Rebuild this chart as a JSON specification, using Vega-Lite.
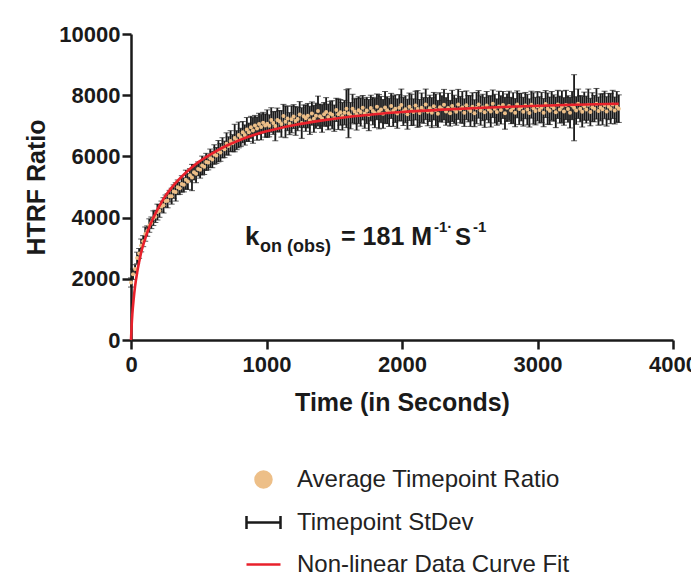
{
"$schema": "https://vega.github.io/schema/vega-lite/v6.json",
"width": 542, "height": 306,
"autosize": {"type": "none"},
"padding": {"left": 131, "top": 34, "right": 18, "bottom": 239},
"background": "white",
"datasets": {
"obs": [
{"t":0,"m":1880,"e":150},{"t":15,"m":2150,"e":170},{"t":30,"m":2320,"e":140},{"t":45,"m":2680,"e":190},{"t":60,"m":2830,"e":160},{"t":75,"m":3090,"e":210},{"t":90,"m":3230,"e":180},{"t":105,"m":3460,"e":230},{"t":120,"m":3560,"e":170},{"t":135,"m":3740,"e":220},{"t":150,"m":3830,"e":190},{"t":165,"m":3980,"e":240},{"t":180,"m":4040,"e":200},{"t":195,"m":4180,"e":260},{"t":210,"m":4220,"e":210},{"t":225,"m":4360,"e":180},{"t":240,"m":4400,"e":250},{"t":255,"m":4540,"e":200},{"t":270,"m":4550,"e":230},{"t":285,"m":4700,"e":190},{"t":300,"m":4700,"e":260},{"t":315,"m":4850,"e":220},{"t":330,"m":4840,"e":300},{"t":345,"m":4990,"e":240},{"t":360,"m":4960,"e":200},{"t":375,"m":5100,"e":270},{"t":390,"m":5070,"e":230},{"t":405,"m":5240,"e":310},{"t":420,"m":5180,"e":260},{"t":435,"m":5380,"e":220},{"t":450,"m":5310,"e":430},{"t":465,"m":5480,"e":250},{"t":480,"m":5430,"e":290},{"t":495,"m":5590,"e":230},{"t":510,"m":5560,"e":270},{"t":525,"m":5700,"e":310},{"t":540,"m":5660,"e":250},{"t":555,"m":5820,"e":280},{"t":570,"m":5800,"e":240},{"t":585,"m":5940,"e":300},{"t":600,"m":5900,"e":270},{"t":615,"m":6060,"e":320},{"t":630,"m":6030,"e":260},{"t":645,"m":6170,"e":350},{"t":660,"m":6130,"e":290},{"t":675,"m":6280,"e":330},{"t":690,"m":6230,"e":270},{"t":705,"m":6410,"e":360},{"t":720,"m":6340,"e":300},{"t":735,"m":6500,"e":340},{"t":750,"m":6430,"e":280},{"t":765,"m":6600,"e":450},{"t":780,"m":6530,"e":310},{"t":795,"m":6700,"e":420},{"t":810,"m":6620,"e":300},{"t":825,"m":6790,"e":350},{"t":840,"m":6700,"e":330},{"t":855,"m":6880,"e":390},{"t":870,"m":6790,"e":300},{"t":885,"m":6950,"e":360},{"t":900,"m":6850,"e":420},{"t":915,"m":7010,"e":330},{"t":930,"m":6910,"e":380},{"t":945,"m":7060,"e":350},{"t":960,"m":6960,"e":420},{"t":975,"m":7100,"e":340},{"t":990,"m":7010,"e":380},
{"t":1005,"m":7070,"e":450},{"t":1020,"m":7000,"e":360},{"t":1035,"m":7190,"e":400},{"t":1050,"m":7090,"e":370},{"t":1065,"m":6990,"e":480},{"t":1080,"m":7190,"e":390},{"t":1095,"m":7150,"e":350},{"t":1110,"m":7060,"e":430},{"t":1125,"m":7320,"e":380},{"t":1140,"m":7130,"e":520},{"t":1155,"m":7240,"e":400},{"t":1170,"m":7070,"e":360},{"t":1185,"m":7210,"e":440},{"t":1200,"m":7300,"e":390},{"t":1215,"m":7160,"e":470},{"t":1230,"m":7220,"e":380},{"t":1245,"m":7370,"e":420},{"t":1260,"m":7090,"e":500},{"t":1275,"m":7310,"e":370},{"t":1290,"m":7250,"e":430},{"t":1305,"m":7330,"e":400},{"t":1320,"m":7180,"e":460},{"t":1335,"m":7400,"e":380},{"t":1350,"m":7230,"e":440},{"t":1365,"m":7330,"e":410},{"t":1380,"m":7480,"e":490},{"t":1395,"m":7310,"e":400},{"t":1410,"m":7240,"e":450},{"t":1425,"m":7380,"e":380},{"t":1440,"m":7450,"e":470},{"t":1455,"m":7290,"e":420},{"t":1470,"m":7400,"e":400},{"t":1485,"m":7360,"e":460},{"t":1500,"m":7250,"e":430},{"t":1515,"m":7520,"e":380},{"t":1530,"m":7380,"e":500},{"t":1545,"m":7440,"e":420},{"t":1560,"m":7310,"e":450},{"t":1575,"m":7430,"e":400},{"t":1590,"m":7560,"e":620},{"t":1605,"m":7410,"e":800},{"t":1620,"m":7330,"e":430},{"t":1635,"m":7560,"e":470},{"t":1650,"m":7470,"e":410},{"t":1665,"m":7380,"e":520},{"t":1680,"m":7510,"e":440},{"t":1695,"m":7450,"e":460},{"t":1710,"m":7590,"e":400},{"t":1725,"m":7400,"e":480},{"t":1740,"m":7500,"e":430},{"t":1755,"m":7350,"e":510},{"t":1770,"m":7580,"e":420},{"t":1785,"m":7480,"e":450},{"t":1800,"m":7420,"e":480},{"t":1815,"m":7620,"e":420},{"t":1830,"m":7460,"e":560},{"t":1845,"m":7530,"e":430},{"t":1860,"m":7390,"e":470},{"t":1875,"m":7600,"e":520},{"t":1890,"m":7510,"e":440},{"t":1905,"m":7440,"e":460},{"t":1920,"m":7650,"e":410},{"t":1935,"m":7480,"e":500},{"t":1950,"m":7560,"e":450},{"t":1965,"m":7400,"e":480},{"t":1980,"m":7590,"e":430},{"t":1995,"m":7680,"e":520},
{"t":2010,"m":7470,"e":460},{"t":2025,"m":7540,"e":440},{"t":2040,"m":7380,"e":490},{"t":2055,"m":7620,"e":450},{"t":2070,"m":7520,"e":510},{"t":2085,"m":7450,"e":430},{"t":2100,"m":7660,"e":470},{"t":2115,"m":7550,"e":600},{"t":2130,"m":7420,"e":440},{"t":2145,"m":7590,"e":480},{"t":2160,"m":7500,"e":420},{"t":2175,"m":7700,"e":500},{"t":2190,"m":7460,"e":460},{"t":2205,"m":7570,"e":430},{"t":2220,"m":7430,"e":490},{"t":2235,"m":7640,"e":450},{"t":2250,"m":7520,"e":520},{"t":2265,"m":7390,"e":440},{"t":2280,"m":7610,"e":470},{"t":2295,"m":7550,"e":430},{"t":2310,"m":7690,"e":500},{"t":2325,"m":7470,"e":450},{"t":2340,"m":7580,"e":480},{"t":2355,"m":7410,"e":420},{"t":2370,"m":7650,"e":510},{"t":2385,"m":7540,"e":460},{"t":2400,"m":7460,"e":440},{"t":2415,"m":7700,"e":490},{"t":2430,"m":7530,"e":430},{"t":2445,"m":7600,"e":520},{"t":2460,"m":7430,"e":450},{"t":2475,"m":7670,"e":470},{"t":2490,"m":7560,"e":430},{"t":2505,"m":7480,"e":500},{"t":2520,"m":7620,"e":460},{"t":2535,"m":7410,"e":440},{"t":2550,"m":7580,"e":510},{"t":2565,"m":7700,"e":450},{"t":2580,"m":7500,"e":480},{"t":2595,"m":7600,"e":430},{"t":2610,"m":7440,"e":490},{"t":2625,"m":7660,"e":460},{"t":2640,"m":7540,"e":440},{"t":2655,"m":7470,"e":510},{"t":2670,"m":7720,"e":450},{"t":2685,"m":7560,"e":470},{"t":2700,"m":7450,"e":430},{"t":2715,"m":7630,"e":500},{"t":2730,"m":7520,"e":460},{"t":2745,"m":7680,"e":440},{"t":2760,"m":7410,"e":520},{"t":2775,"m":7590,"e":450},{"t":2790,"m":7650,"e":480},{"t":2805,"m":7500,"e":430},{"t":2820,"m":7580,"e":500},{"t":2835,"m":7430,"e":460},{"t":2850,"m":7700,"e":440},{"t":2865,"m":7550,"e":510},{"t":2880,"m":7610,"e":450},{"t":2895,"m":7460,"e":470},{"t":2910,"m":7660,"e":430},{"t":2925,"m":7530,"e":500},{"t":2940,"m":7420,"e":460},{"t":2955,"m":7690,"e":440},{"t":2970,"m":7570,"e":510},{"t":2985,"m":7480,"e":450},
{"t":3000,"m":7640,"e":480},{"t":3015,"m":7520,"e":430},{"t":3030,"m":7600,"e":490},{"t":3045,"m":7430,"e":460},{"t":3060,"m":7710,"e":440},{"t":3075,"m":7560,"e":510},{"t":3090,"m":7490,"e":450},{"t":3105,"m":7650,"e":470},{"t":3120,"m":7580,"e":430},{"t":3135,"m":7440,"e":500},{"t":3150,"m":7700,"e":460},{"t":3165,"m":7530,"e":440},{"t":3180,"m":7620,"e":520},{"t":3195,"m":7470,"e":450},{"t":3210,"m":7680,"e":480},{"t":3225,"m":7550,"e":430},{"t":3240,"m":7430,"e":500},{"t":3255,"m":7660,"e":460},{"t":3270,"m":7590,"e":1080},{"t":3285,"m":7500,"e":450},{"t":3300,"m":7720,"e":480},{"t":3315,"m":7560,"e":430},{"t":3330,"m":7460,"e":500},{"t":3345,"m":7640,"e":460},{"t":3360,"m":7530,"e":440},{"t":3375,"m":7690,"e":510},{"t":3390,"m":7450,"e":450},{"t":3405,"m":7610,"e":470},{"t":3420,"m":7560,"e":430},{"t":3435,"m":7720,"e":500},{"t":3450,"m":7480,"e":460},{"t":3465,"m":7600,"e":440},{"t":3480,"m":7540,"e":510},{"t":3495,"m":7680,"e":450},{"t":3510,"m":7470,"e":480},{"t":3525,"m":7630,"e":430},{"t":3540,"m":7560,"e":490},{"t":3555,"m":7700,"e":460},{"t":3570,"m":7500,"e":440},{"t":3585,"m":7620,"e":500},{"t":3600,"m":7560,"e":450}
],
"fit": [
{"t":0,"m":0},{"t":5,"m":500},{"t":10,"m":850},{"t":20,"m":1350},{"t":30,"m":1750},{"t":45,"m":2200},{"t":60,"m":2550},{"t":80,"m":2950},{"t":100,"m":3250},{"t":125,"m":3580},{"t":150,"m":3850},{"t":200,"m":4300},{"t":250,"m":4680},{"t":300,"m":4980},{"t":400,"m":5450},{"t":500,"m":5820},{"t":600,"m":6100},{"t":700,"m":6340},{"t":800,"m":6530},{"t":900,"m":6690},{"t":1000,"m":6820},{"t":1200,"m":7020},{"t":1400,"m":7170},{"t":1600,"m":7290},{"t":1800,"m":7380},{"t":2000,"m":7450},{"t":2300,"m":7530},{"t":2600,"m":7590},{"t":2900,"m":7640},{"t":3200,"m":7680},{"t":3600,"m":7720}
],
"legend": [
{"series":"Average Timepoint Ratio"},{"series":"Timepoint StDev"},{"series":"Non-linear Data Curve Fit"}
],
"note": [
{"label":"kon(obs)"}
]
},
"layer": [
{"data":{"name":"obs"},"mark":{"type":"errorbar","ticks":{"size":6,"strokeWidth":2},"rule":{"strokeWidth":1.8},"color":"#1a1a1a"},
 "encoding":{
  "x": {"field":"t","type":"quantitative","title":"Time (in Seconds)","scale":{"domain":[0,4000],"nice":false},"axis":{"values":[0,1000,2000,3000,4000],"format":"d","titlePadding":15,"labelPadding":5}},
  "y": {"field":"m","type":"quantitative","title":"HTRF Ratio","scale":{"domain":[0,10000],"nice":false},"axis":{"values":[0,2000,4000,6000,8000,10000],"format":"d","titlePadding":9,"labelPadding":2}},
  "yError":{"field":"e"}}},
{"data":{"name":"obs"},"mark":{"type":"point","filled":true,"size":16,"color":"#EDBF88","opacity":1},
 "encoding":{"x":{"field":"t","type":"quantitative"},"y":{"field":"m","type":"quantitative"}}},
{"data":{"name":"fit"},"mark":{"type":"line","color":"#E8212B","strokeWidth":2.6,"interpolate":"monotone"},
 "encoding":{"x":{"field":"t","type":"quantitative"},"y":{"field":"m","type":"quantitative"}}},
{"data":{"name":"legend"},"mark":{"type":"point","opacity":0},
 "encoding":{
  "shape":{"field":"series","type":"nominal","scale":{"domain":["Average Timepoint Ratio","Timepoint StDev","Non-linear Data Curve Fit"],"range":["M-0.47,0A0.47,0.47 0 1,0 0.47,0A0.47,0.47 0 1,0 -0.47,0Z","M-1,0H1M-1,-0.38V0.38M1,-0.38V0.38","M-1,0H1"]},"legend":{"title":null,"orient":"none","legendX":114,"legendY":427,"encode":{"symbols":{"update":{"opacity":{"value":1}}}}}},
  "fill":{"field":"series","type":"nominal","scale":{"domain":["Average Timepoint Ratio","Timepoint StDev","Non-linear Data Curve Fit"],"range":["#EDBF88","transparent","transparent"]},"legend":{"title":null,"orient":"none","legendX":114,"legendY":427,"encode":{"symbols":{"update":{"opacity":{"value":1}}}}}},
  "stroke":{"field":"series","type":"nominal","scale":{"domain":["Average Timepoint Ratio","Timepoint StDev","Non-linear Data Curve Fit"],"range":["#EDBF88","#1a1a1a","#E8212B"]},"legend":{"title":null,"orient":"none","legendX":114,"legendY":427,"encode":{"symbols":{"update":{"opacity":{"value":1}}}}}}
 }},
{"data":{"name":"note"},"mark":{"type":"text","text":"k","fontSize":26,"fontWeight":"bold","align":"left","baseline":"alphabetic","color":"#1a1a1a"},"encoding":{"x":{"datum":841},"y":{"datum":3105}}},
{"data":{"name":"note"},"mark":{"type":"text","text":"on (obs)","fontSize":18,"fontWeight":"bold","align":"left","baseline":"alphabetic","color":"#1a1a1a"},"encoding":{"x":{"datum":952},"y":{"datum":2876}}},
{"data":{"name":"note"},"mark":{"type":"text","text":"= 181 M","fontSize":25,"fontWeight":"bold","align":"left","baseline":"alphabetic","color":"#1a1a1a"},"encoding":{"x":{"datum":1550},"y":{"datum":3105}}},
{"data":{"name":"note"},"mark":{"type":"text","text":"-1·","fontSize":15,"fontWeight":"bold","align":"left","baseline":"alphabetic","color":"#1a1a1a"},"encoding":{"x":{"datum":2236},"y":{"datum":3529}}},
{"data":{"name":"note"},"mark":{"type":"text","text":"S","fontSize":24,"fontWeight":"bold","align":"left","baseline":"alphabetic","color":"#1a1a1a"},"encoding":{"x":{"datum":2391},"y":{"datum":3105}}},
{"data":{"name":"note"},"mark":{"type":"text","text":"-1","fontSize":15,"fontWeight":"bold","align":"left","baseline":"alphabetic","color":"#1a1a1a"},"encoding":{"x":{"datum":2524},"y":{"datum":3529}}}
],
"config": {
"view": {"stroke": null},
"font": "Liberation Sans",
"axis": {"grid": false, "domainColor": "#1a1a1a", "domainWidth": 2.5, "tickColor": "#1a1a1a", "tickWidth": 2.5, "tickSize": 9, "labelFont": "Liberation Sans", "labelFontSize": 22, "labelFontWeight": "bold", "labelColor": "#1a1a1a", "titleFont": "Liberation Sans", "titleFontSize": 25, "titleFontWeight": "bold", "titleColor": "#1a1a1a", "labelFlush": false, "labelOverlap": false},
"legend": {"labelFont": "Liberation Sans", "labelFontSize": 24, "labelColor": "#222222", "labelFontWeight": "normal", "symbolSize": 1156, "symbolStrokeWidth": 2.5, "rowPadding": 11, "labelOffset": 15, "labelLimit": 500, "padding": 0}
}
}
